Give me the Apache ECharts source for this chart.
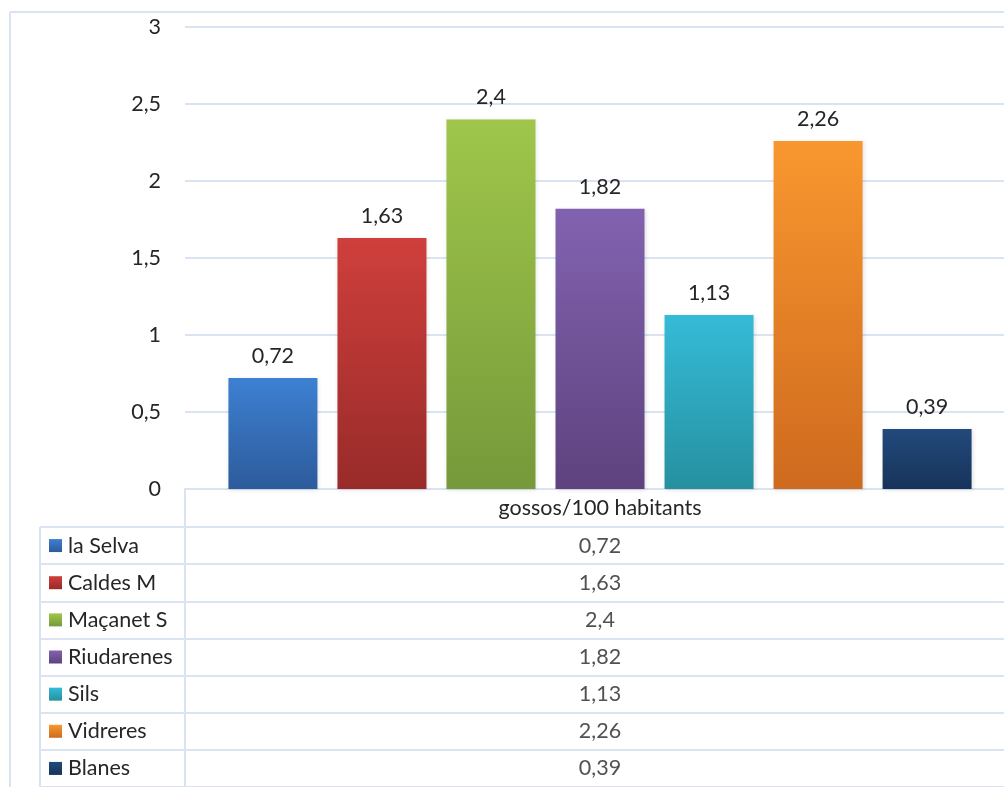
<!DOCTYPE html>
<html><head><meta charset="utf-8">
<script src="https://cdn.jsdelivr.net/npm/echarts@6/dist/echarts.min.js"></script>
<style>html,body{margin:0;padding:0;background:#fff}#c{width:1004px;height:787px}</style>
</head><body><div id="c"></div>
<script>
const category = ['gossos/100 habitants'];
const names = ['la Selva','Caldes M','Maçanet S','Riudarenes','Sils','Vidreres','Blanes'];
const values = [0.72, 1.63, 2.4, 1.82, 1.13, 2.26, 0.39];
const yTicks = [0, 0.5, 1, 1.5, 2, 2.5, 3];
const colorsTop = ['#3d80d2','#cf3f3c','#9fc64b','#8262b0','#35bbd8','#f9972f','#224a7c'];
const colorsBottom = ['#2d5b9b','#982b29','#76993a','#5e427e','#26909f','#ce6a1e','#17335a'];

const FONT = 'Lato';
const FS = 21.5;
const gridColor = '#d9e3f2';
const L = 185, TOP = 27, ZERO = 489, ROW = 38;
const tableTop = ZERO + ROW;
const SHIFT = 5.5;
const fmt = v => String(v).replace('.', ',');

const chart = echarts.init(document.getElementById('c'));
// spacer keeps the bar group offset to the right like in the reference
const series = [{ type: 'bar', xAxisIndex: 0, yAxisIndex: 0, data: ['-'], barWidth: 9, barGap: '22.5%', silent: true, itemStyle: { color: 'transparent' } }];
names.forEach((n, i) => series.push({
  name: n, type: 'bar', xAxisIndex: 0, yAxisIndex: 0,
  data: [values[i]], barWidth: 89, barGap: '22.5%',
  itemStyle: {
    color: new echarts.graphic.LinearGradient(0,0,0,1,[{offset:0,color:colorsTop[i]},{offset:1,color:colorsBottom[i]}]),
    shadowColor: 'rgba(0,0,0,0.12)', shadowBlur: 4, shadowOffsetX: 1, shadowOffsetY: 1
  },
  label: { show: true, position: 'top', distance: 11, formatter: p => fmt(p.value),
    fontFamily: FONT, fontSize: FS, color: '#262626' }
}));
series.push({
  type: 'scatter', xAxisIndex: 1, yAxisIndex: 1, symbolSize: 0,
  data: names.map((n, i) => [0, n, values[i]]),
  label: { show: true, position: 'inside', offset: [SHIFT, 0], formatter: p => fmt(p.value[2]),
    fontFamily: FONT, fontSize: FS, color: '#262626' },
  silent: true
});

const rich = {};
names.forEach((n, i) => {
  rich['s' + i] = { width: 13, height: 13, backgroundColor: new echarts.graphic.LinearGradient(0,0,0,1,[{offset:0,color:colorsTop[i]},{offset:1,color:colorsBottom[i]}]) };
});
rich.t = { fontFamily: FONT, fontSize: FS, color: '#262626', padding: [0,0,0,6] };

const tableRows = names.length;
const graphics = [
  { type: 'line', shape: { x1: 10, y1: 12, x2: 1004, y2: 12 }, style: { stroke: gridColor, lineWidth: 2 } },
  { type: 'line', shape: { x1: 10, y1: 12, x2: 10, y2: 787 }, style: { stroke: gridColor, lineWidth: 2 } },
  { type: 'line', shape: { x1: L, y1: ZERO, x2: L, y2: tableTop }, style: { stroke: gridColor, lineWidth: 2 } },
  { type: 'line', shape: { x1: 40, y1: tableTop, x2: 40, y2: tableTop + tableRows * ROW }, style: { stroke: gridColor, lineWidth: 2 } },
  { type: 'line', shape: { x1: L, y1: tableTop, x2: 1004, y2: tableTop }, style: { stroke: gridColor, lineWidth: 2 } }
];

chart.setOption({
  animation: false,
  grid: [
    { left: L, top: TOP, right: 0, height: ZERO - TOP },
    { left: L, top: tableTop, right: 0, height: tableRows * ROW }
  ],
  xAxis: [
    { type: 'category', gridIndex: 0, data: category,
      axisLine: { lineStyle: { color: gridColor, width: 2 } }, axisTick: { show: false },
      axisLabel: { margin: 8, padding: [0, 0, 0, SHIFT * 2], fontFamily: FONT, fontSize: FS, color: '#262626' } },
    { type: 'category', gridIndex: 1, data: category, show: false }
  ],
  yAxis: [
    { type: 'value', gridIndex: 0, min: 0, max: 3, interval: 0.5,
      axisLine: { show: false }, axisTick: { show: false },
      splitLine: { lineStyle: { color: gridColor, width: 2 } },
      axisLabel: { margin: 24, fontFamily: FONT, fontSize: FS, color: '#262626',
        formatter: v => yTicks.includes(v) ? fmt(v) : '' } },
    { type: 'category', gridIndex: 1, data: names, inverse: true,
      axisLine: { show: true, lineStyle: { color: gridColor, width: 2 } },
      axisTick: { show: true, length: L - 40, lineStyle: { color: gridColor, width: 2 } },
      splitLine: { show: true, lineStyle: { color: gridColor, width: 2 } },
      axisLabel: { align: 'left', margin: L - 49,
        formatter: (v) => '{s' + names.indexOf(v) + '|}{t|' + v + '}', rich } }
  ],
  series,
  graphic: graphics
});
</script></body></html>
